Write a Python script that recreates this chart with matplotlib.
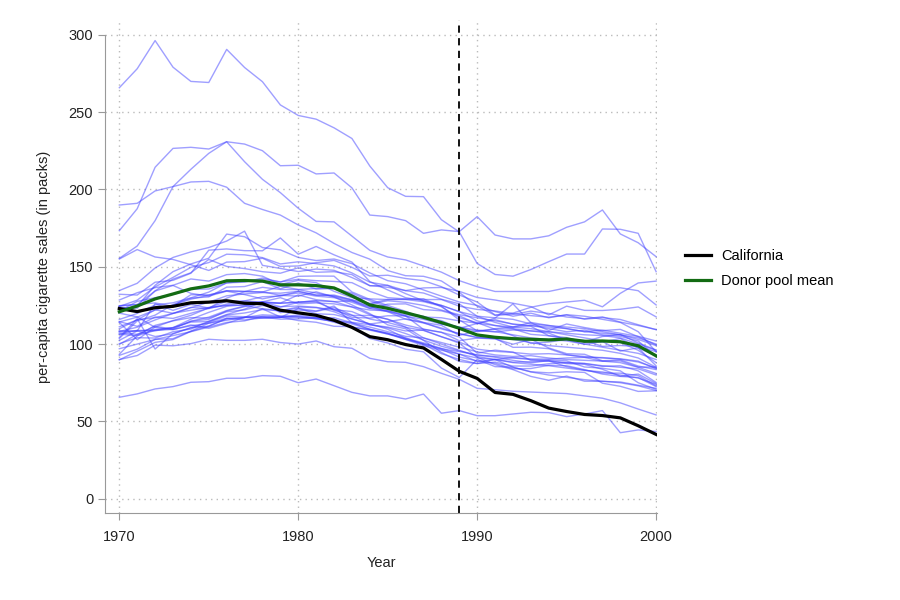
import matplotlib
matplotlib.use('Agg')
import matplotlib.pyplot as plt
import numpy as np

plt.rcParams['font.family'] = ['Liberation Sans', 'DejaVu Sans']

years = np.arange(1970, 2001)
treat_year = 1989

# per-capita cigarette sales, California
california = [123.0, 121.0, 123.5, 124.4, 126.7, 127.1, 128.0, 126.4, 126.1, 121.9,
              120.2, 118.6, 115.4, 110.8, 104.8, 102.8, 99.7, 97.5, 90.1, 82.4,
              77.8, 68.7, 67.5, 63.4, 58.6, 56.4, 54.5, 53.8, 52.3, 47.2, 41.6]

# donor pool mean as drawn
donor_mean = [120.9, 124.6, 129.2, 132.4, 135.7, 137.6, 140.9, 141.1, 140.7, 138.3,
              138.3, 137.8, 136.3, 131.1, 125.3, 123.1, 120.3, 117.3, 113.9, 110.2,
              105.9, 104.4, 103.5, 103.1, 102.7, 103.3, 101.8, 102.0, 101.5, 98.9, 92.4]

# donor states
AL = [89.8, 95.4, 101.1, 102.9, 108.2, 111.7, 116.2, 117.1, 123.0, 121.4, 123.2, 119.6, 119.1, 116.3, 113.0, 114.5, 116.3, 114.0, 112.1, 105.6, 108.6, 107.9, 109.1, 108.5, 107.1, 102.6, 101.4, 104.9, 106.2, 100.7, 96.2]
AR = [100.3, 104.1, 103.9, 108.0, 109.7, 114.8, 119.1, 122.6, 127.3, 126.5, 131.8, 128.7, 127.4, 128.0, 123.1, 125.8, 126.0, 122.3, 121.5, 118.3, 113.1, 116.8, 126.0, 113.8, 108.8, 113.0, 110.7, 108.7, 109.5, 104.8, 99.4]
CO = [124.8, 125.5, 134.3, 137.9, 132.8, 131.0, 134.2, 132.0, 129.2, 131.5, 131.0, 133.8, 130.5, 125.3, 119.7, 112.4, 109.9, 102.4, 94.6, 88.8, 87.4, 90.2, 88.3, 88.6, 89.1, 85.4, 83.1, 81.3, 81.2, 79.6, 73.0]
CT = [120.0, 117.6, 110.8, 109.3, 112.4, 110.2, 113.4, 117.3, 117.5, 117.4, 118.0, 116.4, 114.7, 114.1, 112.5, 111.0, 108.5, 109.0, 104.8, 100.6, 91.5, 86.7, 83.5, 79.1, 76.6, 79.3, 76.0, 75.9, 75.5, 73.4, 71.4]
DE = [155.0, 161.1, 156.3, 154.7, 151.3, 147.6, 153.0, 153.3, 155.5, 150.2, 150.5, 152.6, 154.1, 149.6, 144.0, 144.5, 142.4, 141.0, 137.1, 131.7, 127.2, 118.8, 120.0, 123.8, 126.1, 127.2, 128.3, 124.1, 132.8, 139.5, 140.7]
GA = [109.9, 115.7, 117.0, 119.8, 123.7, 122.9, 125.9, 127.9, 130.6, 131.0, 134.0, 131.7, 131.2, 128.6, 126.3, 128.8, 129.0, 129.3, 124.1, 117.1, 113.8, 109.6, 109.8, 106.3, 105.4, 104.2, 101.2, 101.4, 103.6, 97.4, 92.4]
ID = [102.4, 108.5, 126.1, 121.8, 125.6, 123.3, 125.1, 125.0, 122.8, 117.5, 115.2, 114.1, 111.5, 111.3, 103.6, 100.7, 96.7, 95.0, 84.5, 78.4, 90.1, 85.4, 85.1, 82.1, 81.4, 82.1, 81.7, 74.7, 72.7, 69.4, 69.8]
IL = [124.8, 125.6, 126.6, 124.4, 131.9, 131.8, 134.4, 134.0, 136.7, 135.3, 135.2, 133.0, 130.7, 127.9, 124.0, 121.6, 118.2, 109.5, 107.6, 104.6, 94.1, 96.1, 94.8, 89.5, 89.8, 89.1, 85.2, 84.4, 82.7, 75.0, 70.8]
IN = [134.6, 139.3, 149.2, 156.0, 159.6, 162.4, 166.6, 173.0, 150.9, 148.9, 146.9, 148.5, 147.7, 143.0, 137.8, 136.7, 134.6, 136.3, 136.6, 134.1, 130.1, 128.5, 126.4, 124.2, 118.9, 124.5, 121.8, 121.7, 122.5, 124.0, 117.6]
IA = [108.5, 108.4, 109.4, 110.6, 116.1, 120.5, 124.4, 125.5, 127.1, 124.2, 124.6, 123.8, 120.9, 116.2, 113.1, 109.6, 103.7, 100.8, 97.2, 93.6, 88.8, 89.9, 91.3, 90.4, 90.3, 91.0, 91.4, 91.3, 90.2, 88.4, 84.6]
KS = [114.0, 102.8, 111.0, 115.2, 118.6, 123.4, 127.7, 127.9, 127.1, 126.4, 127.1, 128.0, 121.8, 118.5, 118.5, 116.1, 112.3, 109.7, 107.6, 102.2, 103.9, 103.3, 99.9, 103.1, 97.5, 93.8, 93.4, 89.2, 89.8, 85.8, 83.5]
KY = [155.4, 163.4, 179.8, 201.8, 213.0, 223.3, 230.8, 229.3, 225.0, 215.3, 215.6, 210.0, 210.6, 201.0, 183.4, 182.4, 179.8, 171.6, 173.8, 172.7, 182.4, 170.5, 168.0, 168.0, 170.0, 175.5, 179.0, 186.7, 171.2, 165.5, 156.5]
LA = [115.9, 119.8, 125.3, 126.7, 129.9, 133.6, 139.6, 140.0, 142.7, 140.1, 143.8, 144.0, 143.9, 133.7, 128.9, 125.0, 121.2, 116.5, 115.2, 110.2, 113.3, 115.8, 112.8, 111.5, 105.4, 103.2, 102.4, 98.5, 99.1, 98.4, 95.1]
ME = [128.5, 133.2, 136.5, 138.0, 142.1, 140.7, 144.9, 145.6, 143.9, 138.5, 141.2, 139.7, 134.1, 130.0, 129.2, 128.8, 128.8, 127.4, 124.5, 115.6, 108.6, 109.5, 105.4, 100.4, 101.3, 102.9, 99.9, 101.7, 95.5, 97.6, 85.9]
MN = [104.3, 116.4, 96.8, 106.8, 110.6, 111.5, 116.7, 117.2, 118.9, 118.3, 117.7, 116.3, 114.9, 111.0, 109.4, 106.5, 104.1, 99.8, 93.8, 90.1, 87.4, 88.3, 85.8, 85.8, 87.3, 88.0, 87.4, 85.6, 86.0, 82.7, 75.2]
MS = [93.4, 105.4, 112.1, 115.0, 117.1, 116.8, 120.9, 122.1, 124.9, 123.9, 127.0, 127.2, 122.5, 117.3, 116.8, 118.3, 118.3, 113.9, 109.8, 106.7, 104.5, 103.7, 97.9, 98.0, 97.0, 93.1, 91.4, 88.9, 89.1, 85.1, 85.2]
MO = [121.3, 127.6, 130.0, 132.1, 135.4, 135.6, 139.5, 140.8, 141.8, 140.2, 141.9, 141.0, 140.5, 139.7, 134.1, 130.0, 129.2, 128.8, 128.8, 124.5, 122.4, 121.4, 119.7, 118.4, 117.4, 118.8, 116.1, 117.1, 115.9, 112.5, 109.3]
MT = [111.2, 115.6, 122.2, 119.9, 121.9, 123.7, 124.9, 127.0, 127.2, 120.3, 122.0, 121.1, 123.6, 118.8, 112.5, 110.5, 106.8, 102.6, 98.6, 95.6, 92.9, 91.5, 89.5, 87.9, 89.3, 87.4, 86.9, 83.7, 79.2, 80.6, 74.5]
NE = [108.1, 108.6, 104.9, 106.6, 110.5, 114.1, 118.1, 117.7, 117.4, 116.1, 116.3, 117.0, 117.1, 113.8, 109.6, 107.0, 103.4, 100.2, 96.6, 91.6, 89.1, 87.6, 84.0, 84.2, 86.3, 86.0, 83.5, 80.6, 79.1, 78.4, 72.5]
NV = [189.9, 191.0, 199.0, 201.8, 204.8, 205.2, 201.4, 191.0, 187.0, 183.4, 177.0, 171.9, 165.1, 159.2, 154.9, 147.5, 144.2, 143.8, 140.8, 133.4, 124.5, 118.6, 119.2, 121.3, 119.8, 117.5, 116.4, 117.6, 114.2, 112.0, 109.4]
NH = [265.7, 278.0, 296.2, 279.0, 269.8, 269.1, 290.5, 278.8, 269.6, 254.6, 247.8, 245.4, 239.8, 232.9, 215.1, 201.1, 195.5, 195.3, 180.4, 172.5, 152.1, 145.0, 143.9, 148.2, 153.3, 158.2, 158.2, 174.4, 174.2, 171.6, 146.8]
NM = [90.0, 92.6, 99.3, 98.9, 100.3, 103.1, 102.4, 102.4, 103.1, 101.0, 100.0, 102.0, 98.3, 97.3, 90.8, 88.6, 88.2, 85.4, 81.1, 77.2, 71.4, 70.5, 69.5, 69.0, 68.5, 68.0, 66.5, 65.0, 62.0, 58.0, 54.2]
NC = [173.3, 187.5, 214.3, 226.5, 227.2, 226.1, 230.8, 217.9, 206.5, 197.9, 187.8, 179.3, 179.0, 169.8, 160.6, 156.3, 154.4, 150.5, 146.5, 141.0, 137.1, 134.0, 134.0, 134.0, 134.0, 136.4, 136.4, 136.4, 136.4, 134.5, 125.3]
ND = [97.0, 100.0, 103.0, 105.5, 108.0, 111.0, 114.0, 115.0, 118.0, 117.5, 118.8, 117.0, 116.0, 113.0, 109.5, 107.0, 103.0, 99.0, 96.0, 93.5, 91.0, 90.0, 88.0, 87.0, 86.0, 84.5, 83.0, 82.0, 80.0, 78.0, 74.0]
OH = [114.3, 117.4, 122.0, 125.2, 129.0, 131.6, 134.5, 134.0, 133.8, 131.5, 133.0, 131.0, 130.0, 127.0, 123.0, 121.0, 118.0, 116.0, 113.0, 111.0, 109.0, 108.0, 106.0, 104.0, 103.0, 102.0, 100.0, 98.0, 96.0, 94.0, 90.0]
OK = [108.2, 110.9, 115.6, 119.8, 123.5, 127.1, 131.2, 132.4, 133.3, 132.9, 134.1, 131.6, 131.7, 128.6, 124.3, 120.9, 116.1, 113.6, 110.4, 106.7, 104.1, 103.6, 103.0, 101.0, 99.0, 98.0, 97.0, 96.0, 94.0, 91.0, 85.0]
PA = [107.3, 106.3, 109.0, 110.7, 114.2, 114.6, 118.8, 120.1, 122.3, 121.5, 124.0, 123.5, 122.3, 121.0, 116.2, 114.0, 110.8, 108.8, 104.7, 101.3, 96.7, 95.3, 94.6, 93.5, 93.8, 93.0, 92.0, 91.0, 90.5, 89.0, 84.0]
RI = [123.9, 123.2, 134.4, 142.0, 146.1, 154.7, 150.2, 148.8, 146.8, 145.8, 149.3, 146.4, 146.8, 144.9, 137.7, 137.9, 132.6, 128.0, 125.0, 120.9, 115.0, 112.0, 111.0, 110.0, 108.0, 106.0, 104.0, 102.0, 101.0, 96.0, 88.0]
SC = [103.6, 115.0, 118.7, 125.5, 129.7, 130.5, 136.8, 137.2, 140.4, 135.7, 139.5, 135.6, 135.9, 132.1, 125.8, 128.0, 127.0, 125.0, 122.0, 119.0, 117.0, 115.0, 113.0, 112.0, 111.0, 110.0, 108.0, 107.0, 106.0, 104.0, 100.0]
SD = [92.7, 96.7, 103.0, 103.5, 108.4, 113.5, 116.7, 115.6, 116.9, 117.4, 117.2, 117.1, 114.1, 111.0, 109.0, 106.5, 103.0, 100.0, 97.0, 95.1, 93.0, 92.0, 91.0, 90.0, 89.0, 88.0, 87.5, 86.0, 85.0, 84.0, 80.0]
TN = [99.8, 106.3, 111.5, 109.7, 114.8, 117.4, 121.7, 124.6, 127.3, 130.0, 126.0, 126.6, 126.0, 124.0, 122.0, 121.5, 119.0, 117.5, 117.0, 115.0, 113.5, 112.0, 110.0, 108.5, 108.0, 107.0, 106.0, 105.5, 104.0, 100.0, 96.0]
TX = [106.4, 108.9, 108.6, 110.4, 114.7, 116.0, 121.4, 124.2, 126.6, 126.4, 127.1, 128.0, 127.5, 124.0, 119.0, 116.0, 111.0, 104.0, 100.0, 96.0, 92.0, 90.0, 85.0, 82.0, 80.0, 78.5, 77.0, 76.0, 75.0, 73.0, 70.0]
UT = [65.6, 67.8, 71.0, 72.5, 75.3, 75.7, 77.9, 77.9, 79.6, 79.2, 75.0, 77.4, 73.1, 68.8, 66.5, 66.5, 64.5, 67.7, 55.3, 57.0, 53.7, 53.7, 54.8, 55.9, 55.7, 53.1, 54.8, 57.0, 42.7, 44.5, 43.5]
VT = [122.6, 124.4, 138.0, 146.8, 151.8, 155.5, 171.1, 169.4, 162.4, 160.9, 156.0, 154.0, 155.0, 152.0, 146.0, 141.0, 139.0, 135.0, 131.0, 127.2, 125.0, 121.0, 118.0, 120.0, 117.0, 119.0, 118.0, 116.0, 114.0, 108.0, 95.0]
VA = [124.3, 128.4, 137.0, 143.1, 149.6, 152.7, 158.1, 157.7, 155.9, 151.8, 153.2, 152.0, 150.5, 146.0, 140.0, 138.0, 134.5, 133.0, 129.0, 126.0, 118.0, 117.0, 116.0, 113.0, 112.0, 111.0, 110.0, 108.0, 106.0, 103.0, 99.0]
WV = [114.5, 111.5, 117.5, 116.6, 119.9, 123.2, 129.7, 133.9, 133.6, 137.4, 135.3, 135.9, 136.3, 132.9, 128.0, 124.0, 120.0, 118.0, 113.0, 111.0, 108.0, 110.0, 111.0, 114.0, 112.0, 110.0, 108.0, 109.0, 107.0, 105.0, 102.0]
WI = [106.4, 105.4, 108.8, 109.5, 111.8, 113.5, 115.4, 117.2, 116.7, 117.1, 123.0, 121.4, 124.6, 113.7, 111.0, 108.0, 105.0, 104.0, 101.0, 98.0, 95.0, 93.0, 92.0, 92.5, 91.0, 90.0, 89.5, 89.0, 88.0, 85.0, 81.0]
WY = [132.2, 131.7, 140.0, 141.2, 145.8, 160.7, 161.5, 160.4, 160.3, 168.6, 158.1, 163.1, 157.7, 153.0, 140.4, 135.0, 130.0, 128.0, 125.0, 121.0, 118.0, 114.0, 111.0, 112.0, 110.0, 108.0, 109.0, 106.0, 105.0, 102.0, 92.0]

donors = [AL, AR, CO, CT, DE, GA, ID, IL, IN, IA, KS, KY, LA, ME, MN, MS, MO, MT,
          NE, NV, NH, NM, NC, ND, OH, OK, PA, RI, SC, SD, TN, TX, UT, VT, VA, WV, WI, WY]

fig = plt.figure(figsize=(9, 6), dpi=100)
ax = fig.add_axes([105 / 900, 1 - 513 / 600, 552 / 900, 493 / 600])

for d in donors:
    ax.plot(years, d, color='#4040ff', alpha=0.5, lw=1.0)

ax.plot(years, california, color='black', lw=2.3, label='California')
ax.plot(years, donor_mean, color='#136b13', lw=2.3, label='Donor pool mean')

ax.axvline(treat_year, color='black', lw=1.3, ls=(0, (4, 3)))

ax.set_xlim(1969.2, 2000.05)
ax.set_ylim(-9.2, 309.5)
ax.set_xticks([1970, 1980, 1990, 2000])
ax.set_yticks([0, 50, 100, 150, 200, 250, 300])
ax.grid(True, color='#bbbbbb', ls=(0, (1, 3)), lw=1)

for s in ['top', 'right']:
    ax.spines[s].set_visible(False)
ax.spines['left'].set_bounds(-9.2, 300)
ax.spines['left'].set_color('#999999')
ax.spines['bottom'].set_color('#999999')
ax.tick_params(colors='#999999', labelcolor='#222222', labelsize=10.5, length=5)
ax.tick_params(axis='x', pad=7)

ax.set_xlabel('Year', fontsize=10.5, color='#222222', labelpad=9)
ax.set_ylabel('per-capita cigarette sales (in packs)', fontsize=10.5, color='#222222', labelpad=13)

fig.legend(loc='center left', bbox_to_anchor=(0.746, 0.553), frameon=False,
           fontsize=10.5, handlelength=1.8, handletextpad=0.7, labelspacing=0.75)

fig.savefig('out.png', dpi=100)
